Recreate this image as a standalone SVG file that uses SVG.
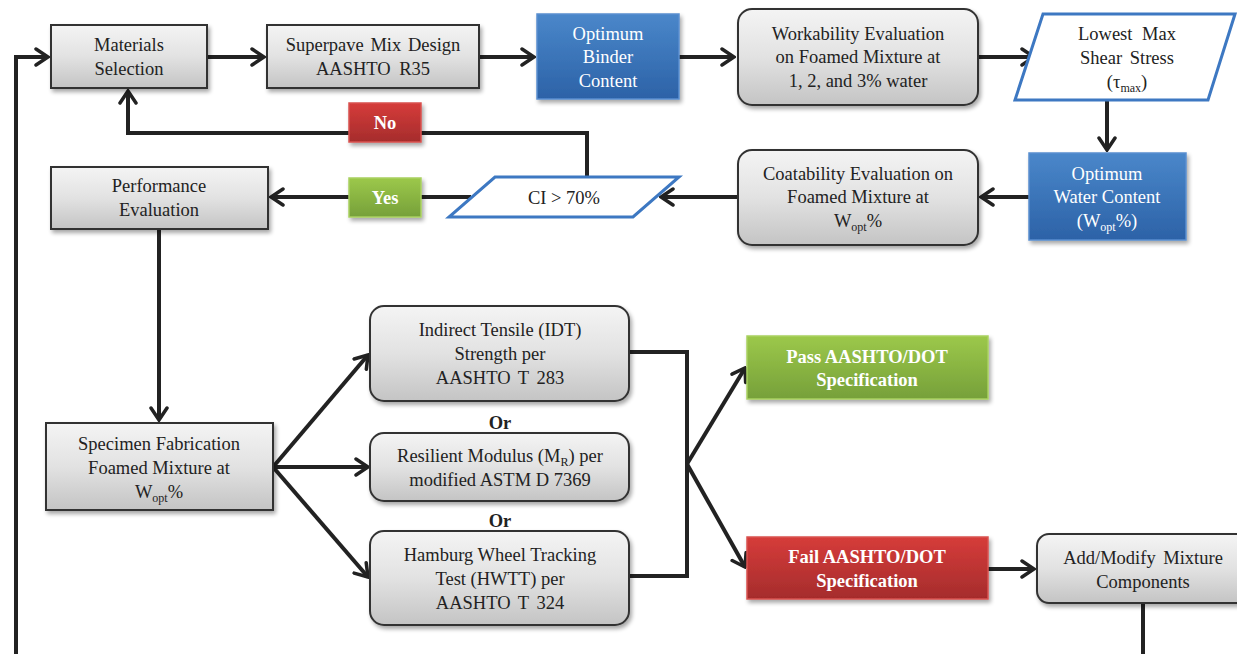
<svg xmlns="http://www.w3.org/2000/svg" width="1237" height="654" viewBox="0 0 1237 654" font-family="'Liberation Serif', 'DejaVu Serif', serif">
  <style>
    text { font-family: "Liberation Serif", "DejaVu Serif", serif; font-size: 18.5px; text-anchor: middle; }
    .t { fill: #222; }
    .w { fill: #fff; }
    .b { font-weight: bold; }
    .wb { fill: #fff; }
    .kb { fill: #222; }
    .gray { fill: url(#gGray); stroke: #333; stroke-width: 2; filter: url(#sh); }
    .blue { fill: url(#gBlue); stroke: #5a8ed0; stroke-width: 1.5; filter: url(#sh); }
    .green { fill: url(#gGreen); stroke: #a9d160; stroke-width: 1.5; filter: url(#sh); }
    .red { fill: url(#gRed); stroke: #d9534f; stroke-width: 1.5; filter: url(#sh); }
    .para { fill: #fff; stroke: #3d78c2; stroke-width: 3; }
    .ln { fill: none; stroke: #222; stroke-width: 4; stroke-linejoin: miter; }
    .arr { marker-end: url(#ah); }
    .sub { font-size: 12px; }
  </style>
  <defs>
    <linearGradient id="gGray" x1="0" y1="0" x2="0" y2="1">
      <stop offset="0" stop-color="#f4f4f4"/>
      <stop offset="0.5" stop-color="#e2e2e2"/>
      <stop offset="1" stop-color="#c4c4c4"/>
    </linearGradient>
    <linearGradient id="gBlue" x1="0" y1="0" x2="0" y2="1">
      <stop offset="0" stop-color="#4a87ca"/>
      <stop offset="1" stop-color="#2c62a7"/>
    </linearGradient>
    <linearGradient id="gGreen" x1="0" y1="0" x2="0" y2="1">
      <stop offset="0" stop-color="#9cc84a"/>
      <stop offset="1" stop-color="#76a03a"/>
    </linearGradient>
    <linearGradient id="gRed" x1="0" y1="0" x2="0" y2="1">
      <stop offset="0" stop-color="#d63c3a"/>
      <stop offset="1" stop-color="#a52c2c"/>
    </linearGradient>
    <filter id="sh" x="-10%" y="-10%" width="125%" height="135%">
      <feGaussianBlur in="SourceAlpha" stdDeviation="2"/>
      <feOffset dx="2" dy="3" result="o"/>
      <feComponentTransfer><feFuncA type="linear" slope="0.35"/></feComponentTransfer>
      <feMerge><feMergeNode/><feMergeNode in="SourceGraphic"/></feMerge>
    </filter>
    <marker id="ah" markerUnits="userSpaceOnUse" viewBox="0 0 16 20" refX="14" refY="10" markerWidth="16" markerHeight="20" orient="auto">
      <path d="M2,2 L14,10 L2,18" fill="none" stroke="#222" stroke-width="3.5" stroke-linecap="round"/>
    </marker>
  </defs>

  <rect width="1237" height="654" fill="#fff"/>

  <!-- connectors -->
  <g id="connectors">
    <polyline class="ln arr" points="16,654 16,57 48,57"/>
    <line class="ln arr" x1="207" y1="57" x2="264" y2="57"/>
    <line class="ln arr" x1="479" y1="57" x2="534" y2="57"/>
    <line class="ln arr" x1="679" y1="57" x2="734" y2="57"/>
    <line class="ln arr" x1="978" y1="57" x2="1034" y2="57"/>
    <line class="ln arr" x1="1107" y1="100" x2="1107" y2="150"/>
    <line class="ln arr" x1="1029" y1="197" x2="981" y2="197"/>
    <line class="ln arr" x1="738" y1="197" x2="661" y2="197"/>
    <polyline class="ln arr" points="587,177 587,133 128,133 128,91"/>
    <line class="ln arr" x1="471" y1="197" x2="271" y2="197"/>
    <line class="ln arr" x1="159" y1="229" x2="159" y2="420"/>
    <line class="ln arr" x1="273" y1="467" x2="368" y2="355"/>
    <line class="ln arr" x1="273" y1="467" x2="368" y2="467"/>
    <line class="ln arr" x1="273" y1="467" x2="368" y2="577"/>
    <polyline class="ln" points="629,352 687,352 687,576 629,576"/>
    <line class="ln arr" x1="687" y1="464" x2="745" y2="368"/>
    <line class="ln arr" x1="687" y1="464" x2="745" y2="567"/>
    <line class="ln arr" x1="988" y1="569" x2="1034" y2="569"/>
    <line class="ln" x1="1143" y1="603" x2="1143" y2="654"/>
  </g>

  <!-- nodes -->
  <g id="materials">
    <rect class="gray" x="51" y="25" width="156" height="63"/>
    <text class="t" x="129" y="51">Materials</text>
    <text class="t" x="129" y="75">Selection</text>
  </g>
  <g id="superpave">
    <rect class="gray" x="267" y="25" width="212" height="63"/>
    <text class="t" x="373" y="51" word-spacing="2">Superpave Mix Design</text>
    <text class="t" x="373" y="75" word-spacing="4">AASHTO R35</text>
  </g>
  <g id="binder">
    <rect class="blue" x="537" y="14" width="142" height="85"/>
    <text class="w" x="608" y="40">Optimum</text>
    <text class="w" x="608" y="63">Binder</text>
    <text class="w" x="608" y="87">Content</text>
  </g>
  <g id="workability">
    <rect class="gray" x="738" y="9" width="240" height="96" rx="14"/>
    <text class="t" x="858" y="40">Workability Evaluation</text>
    <text class="t" x="858" y="63">on Foamed Mixture at</text>
    <text class="t" x="858" y="87">1, 2, and 3% water</text>
  </g>
  <g id="shear">
    <polygon class="para" points="1043,14 1235,14 1208,100 1015,100"/>
    <text class="t" x="1127" y="40" word-spacing="5">Lowest Max</text>
    <text class="t" x="1127" y="64" word-spacing="3">Shear Stress</text>
    <text class="t" x="1127" y="88">(τ<tspan class="sub" dy="4">max</tspan><tspan dy="-4">)</tspan></text>
  </g>
  <g id="water">
    <rect class="blue" x="1029" y="153" width="157" height="87"/>
    <text class="w" x="1107" y="180">Optimum</text>
    <text class="w" x="1107" y="203">Water Content</text>
    <text class="w" x="1107" y="227">(W<tspan class="sub" dy="4">opt</tspan><tspan dy="-4">%)</tspan></text>
  </g>
  <g id="coatability">
    <rect class="gray" x="738" y="150" width="240" height="95" rx="14"/>
    <text class="t" x="858" y="180">Coatability Evaluation on</text>
    <text class="t" x="858" y="203">Foamed Mixture at</text>
    <text class="t" x="858" y="227">W<tspan class="sub" dy="4">opt</tspan><tspan dy="-4">%</tspan></text>
  </g>
  <g id="ci">
    <polygon class="para" points="495,177 679,177 633,217 449,217"/>
    <text class="t" x="564" y="204">CI &gt; 70%</text>
  </g>
  <g id="no">
    <rect class="red" x="349" y="103" width="72" height="39"/>
    <text class="b wb" x="385" y="129">No</text>
  </g>
  <g id="yes">
    <rect class="green" x="349" y="178" width="72" height="39"/>
    <text class="b wb" x="385" y="204">Yes</text>
  </g>
  <g id="performance">
    <rect class="gray" x="51" y="167" width="217" height="62"/>
    <text class="t" x="159" y="192">Performance</text>
    <text class="t" x="159" y="216">Evaluation</text>
  </g>
  <g id="specimen">
    <rect class="gray" x="46" y="423" width="227" height="87"/>
    <text class="t" x="159" y="450">Specimen Fabrication</text>
    <text class="t" x="159" y="474">Foamed Mixture at</text>
    <text class="t" x="159" y="498">W<tspan class="sub" dy="4">opt</tspan><tspan dy="-4">%</tspan></text>
  </g>
  <g id="idt">
    <rect class="gray" x="370" y="306" width="259" height="95" rx="14"/>
    <text class="t" x="500" y="336">Indirect Tensile (IDT)</text>
    <text class="t" x="500" y="360">Strength per</text>
    <text class="t" x="500" y="384" word-spacing="3">AASHTO T 283</text>
  </g>
  <g id="or1">
    <text class="b kb" x="500" y="429">Or</text>
  </g>
  <g id="mr">
    <rect class="gray" x="370" y="433" width="259" height="68" rx="14"/>
    <text class="t" x="500" y="462">Resilient Modulus (M<tspan class="sub" dy="4">R</tspan><tspan dy="-4">) per</tspan></text>
    <text class="t" x="500" y="486">modified ASTM D 7369</text>
  </g>
  <g id="or2">
    <text class="b kb" x="500" y="527">Or</text>
  </g>
  <g id="hwtt">
    <rect class="gray" x="370" y="531" width="259" height="94" rx="14"/>
    <text class="t" x="500" y="561">Hamburg Wheel Tracking</text>
    <text class="t" x="500" y="585">Test (HWTT) per</text>
    <text class="t" x="500" y="609" word-spacing="3">AASHTO T 324</text>
  </g>
  <g id="pass">
    <rect class="green" x="747" y="336" width="241" height="63"/>
    <text class="b wb" x="867" y="363">Pass AASHTO/DOT</text>
    <text class="b wb" x="867" y="386">Specification</text>
  </g>
  <g id="fail">
    <rect class="red" x="747" y="537" width="241" height="62"/>
    <text class="b wb" x="867" y="563">Fail AASHTO/DOT</text>
    <text class="b wb" x="867" y="587">Specification</text>
  </g>
  <g id="modify">
    <rect class="gray" x="1037" y="534" width="215" height="69" rx="12"/>
    <text class="t" x="1143" y="564" word-spacing="3">Add/Modify Mixture</text>
    <text class="t" x="1143" y="588">Components</text>
  </g>
</svg>
